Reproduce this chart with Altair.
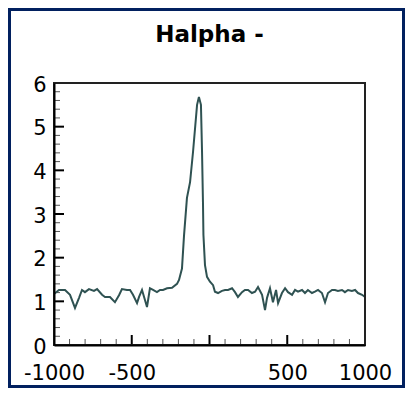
import altair as alt
import pandas as pd

# Spectrum: velocity (km/s) and normalised flux
velocity = [-1000, -968, -929, -897, -865, -839, -820, -801, -775, -743, -723, -691, -672, -640,
            -608, -582, -563, -531, -511, -492, -466, -453, -434, -415, -402, -383, -363, -338,
            -318, -299, -273, -241, -209, -196, -177, -164, -145, -125, -106, -80, -68, -55,
            -48, -42, -39, -29, -16, 3, 23, 35, 55, 80, 100, 119, 145, 164, 183, 209, 228, 248,
            273, 293, 312, 338, 357, 370, 389, 408, 428, 441, 466, 486, 505, 531, 550, 569, 595,
            614, 633, 659, 678, 698, 723, 743, 762, 788, 807, 826, 852, 871, 891, 916, 936, 955,
            981, 1000]
flux = [1.17, 1.26, 1.26, 1.15, 0.85, 1.08, 1.26, 1.21, 1.28, 1.24, 1.28, 1.15, 1.10, 1.10,
        0.98, 1.14, 1.28, 1.26, 1.26, 1.15, 0.96, 1.10, 1.26, 1.03, 0.87, 1.30, 1.26, 1.21,
        1.26, 1.26, 1.30, 1.31, 1.40, 1.49, 1.75, 2.50, 3.37, 3.73, 4.42, 5.50, 5.68, 5.50,
        4.42, 3.27, 2.52, 1.83, 1.56, 1.45, 1.37, 1.22, 1.19, 1.24, 1.26, 1.26, 1.30, 1.21,
        1.10, 1.21, 1.26, 1.26, 1.19, 1.22, 1.33, 1.15, 0.80, 1.08, 1.30, 0.98, 1.26, 0.96,
        1.19, 1.30, 1.21, 1.15, 1.26, 1.22, 1.26, 1.19, 1.26, 1.19, 1.22, 1.26, 1.19, 0.98,
        1.19, 1.26, 1.26, 1.24, 1.26, 1.21, 1.26, 1.24, 1.26, 1.19, 1.15, 1.10]

x_labels = [-1000, -500, 500, 1000]
x_major = [-500, 0, 500]
x_minor = [-900, -800, -700, -600, -400, -300, -200, -100, 100, 200, 300, 400, 600, 700, 800, 900]
y_labels = [0, 1, 2, 3, 4, 5, 6]
y_major = [1, 2, 3, 4, 5]
y_minor = [0.2, 0.4, 0.6, 0.8, 1.2, 1.4, 1.6, 1.8, 2.2, 2.4, 2.6, 2.8, 3.2, 3.4, 3.6, 3.8,
           4.2, 4.4, 4.6, 4.8, 5.2, 5.4, 5.6, 5.8]

W, H = 311, 262
PAD = {"left": 46, "top": 75, "right": 40, "bottom": 43}
NAVY = "#01205f"
FONT = "DejaVu Sans"

spec = pd.DataFrame({"v": velocity, "f": flux})

xscale = alt.Scale(domain=[-1000, 1000], nice=False, zero=False)
yscale = alt.Scale(domain=[0, 6], nice=False, zero=False)

xaxis = alt.Axis(values=x_labels, ticks=False, grid=False, title=None,
                 domainColor="black", domainWidth=2, zindex=2,
                 labelFont=FONT, labelFontSize=21, labelColor="black",
                 labelPadding=17, labelOverlap=False, labelFlush=False,
                 labelExpr="'' + datum.value")
yaxis = alt.Axis(values=y_labels, ticks=False, grid=False, title=None,
                 domainColor="black", domainWidth=2, zindex=2,
                 labelFont=FONT, labelFontSize=21, labelColor="black",
                 labelPadding=8, labelOffset=2, labelOverlap=False, labelFlush=False,
                 labelExpr="'' + datum.value")

one = alt.Data(values=[{"a": 1}])

# white card inside a thin navy frame
panel = alt.Chart(one).mark_rect(color="white").encode(
    x=alt.value(3 - PAD["left"]), x2=alt.value(W + PAD["right"] - 3),
    y=alt.value(3 - PAD["top"]), y2=alt.value(H + PAD["bottom"] - 3)
)

frame = alt.Chart(one).mark_rect(fill=None, fillOpacity=0, stroke="#222222", strokeWidth=2).encode(
    x=alt.value(0), x2=alt.value(W), y=alt.value(0), y2=alt.value(H)
)

line = alt.Chart(spec).mark_line(color="#2f5252", strokeWidth=2).encode(
    x=alt.X("v:Q", scale=xscale, axis=xaxis),
    y=alt.Y("f:Q", scale=yscale, axis=yaxis),
)

xmaj = alt.Chart(pd.DataFrame({"v": x_major})).mark_rule(color="black", strokeWidth=2).encode(
    x=alt.X("v:Q", scale=xscale, axis=xaxis), y=alt.value(H), y2=alt.value(H - 10))
xmin = alt.Chart(pd.DataFrame({"v": x_minor})).mark_rule(color="#555555", strokeWidth=1).encode(
    x=alt.X("v:Q", scale=xscale, axis=xaxis), y=alt.value(H), y2=alt.value(H - 6))
ymaj = alt.Chart(pd.DataFrame({"f": y_major})).mark_rule(color="black", strokeWidth=2).encode(
    y=alt.Y("f:Q", scale=yscale, axis=yaxis), x=alt.value(0), x2=alt.value(10))
ymin = alt.Chart(pd.DataFrame({"f": y_minor})).mark_rule(color="#555555", strokeWidth=1).encode(
    y=alt.Y("f:Q", scale=yscale, axis=yaxis), x=alt.value(0), x2=alt.value(6))

chart = alt.layer(panel, xmin, xmaj, ymin, ymaj, line, frame).properties(
    width=W, height=H,
    title=alt.TitleParams("Halpha -", font=FONT, fontSize=23, fontWeight="bold",
                          color="black", anchor="middle", frame="group",
                          baseline="alphabetic", offset=-54),
    autosize=alt.AutoSizeParams(type="none"),
    padding=PAD,
    background=NAVY,
).configure_view(stroke=None)

chart.save("out.html", embed_options={"renderer": "svg", "actions": False})
